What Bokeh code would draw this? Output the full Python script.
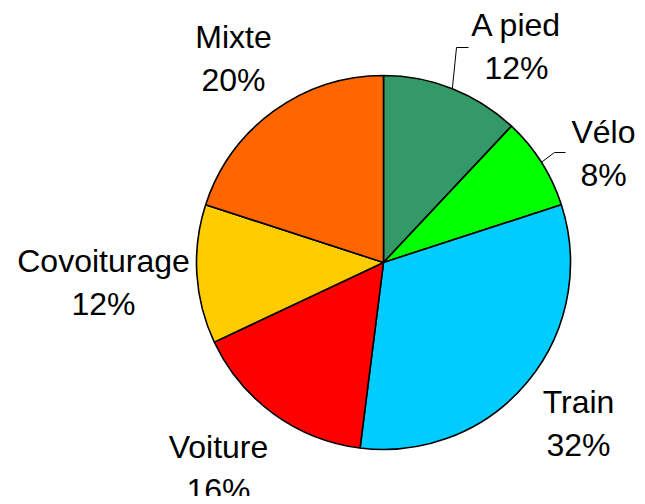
import math
from bokeh.plotting import figure
from bokeh.models import Range1d, ColumnDataSource
from bokeh.core.properties import value
from bokeh.embed import file_html
from bokeh.resources import INLINE

# ---- data ----
categories = ["A pied", "Vélo", "Train", "Voiture", "Covoiturage", "Mixte"]
shares = [12, 8, 32, 16, 12, 20]
colors = ["#339966", "#00FF00", "#00CCFF", "#FF0000", "#FFCC00", "#FF6600"]

# ---- layout (screen pixels; y grows downward, converted below) ----
CX, CY, R = 383, 262, 187
# label centre x and baseline y of the first line, per slice
label_pos = [(516, 35), (603, 142), (578, 412), (218, 457), (103, 271), (233, 47)]
TEXT_SHIFT = -11
LINE_GAP = 43
# leader lines (elbow, end) for slices that have one
leaders = {0: [(456, 47), (468, 47)], 1: [(554, 152), (565, 152)]}

W, H = 637, 496
p = figure(width=W, height=H, output_backend="svg", toolbar_location=None,
           x_range=Range1d(0, W), y_range=Range1d(-H, 0),
           min_border=0, outline_line_color=None, background_fill_color="white",
           border_fill_color="white")
p.axis.visible = False
p.grid.visible = False

total = float(sum(shares))
starts, ends, mids = [], [], []
acc = 0.0
for s in shares:
    a0 = math.pi / 2 - 2 * math.pi * acc / total
    acc += s
    a1 = math.pi / 2 - 2 * math.pi * acc / total
    starts.append(a0)
    ends.append(a1)
    mids.append((a0 + a1) / 2)

src = ColumnDataSource(dict(x=[CX] * len(shares), y=[-CY] * len(shares),
                            start=starts, end=ends, color=colors))
p.wedge(x="x", y="y", radius=R, start_angle="start", end_angle="end",
        direction="clock", fill_color="color", line_color="black",
        line_width=1.6, source=src)

# leader lines
for i, pts in leaders.items():
    sx = CX + R * math.cos(mids[i])
    sy = -CY + R * math.sin(mids[i])
    xs = [sx] + [q[0] for q in pts]
    ys = [sy] + [-q[1] for q in pts]
    p.line(xs, ys, line_color="black", line_width=1)

names_x = [lp[0] for lp in label_pos]
names_y = [-(lp[1] + TEXT_SHIFT) for lp in label_pos]
pct_y = [-(lp[1] + TEXT_SHIFT + LINE_GAP) for lp in label_pos]
pct_txt = [f"{s}%" for s in shares]

font = value("Liberation Sans")
p.text(x=names_x, y=names_y, text=categories, text_font=font,
       text_font_size="32px", text_align="center", text_baseline="alphabetic",
       text_color="black")
p.text(x=names_x, y=pct_y, text=pct_txt, text_font=font,
       text_font_size="32px", text_align="center", text_baseline="alphabetic",
       text_color="black")

open("out.html", "w").write(file_html(p, INLINE))
